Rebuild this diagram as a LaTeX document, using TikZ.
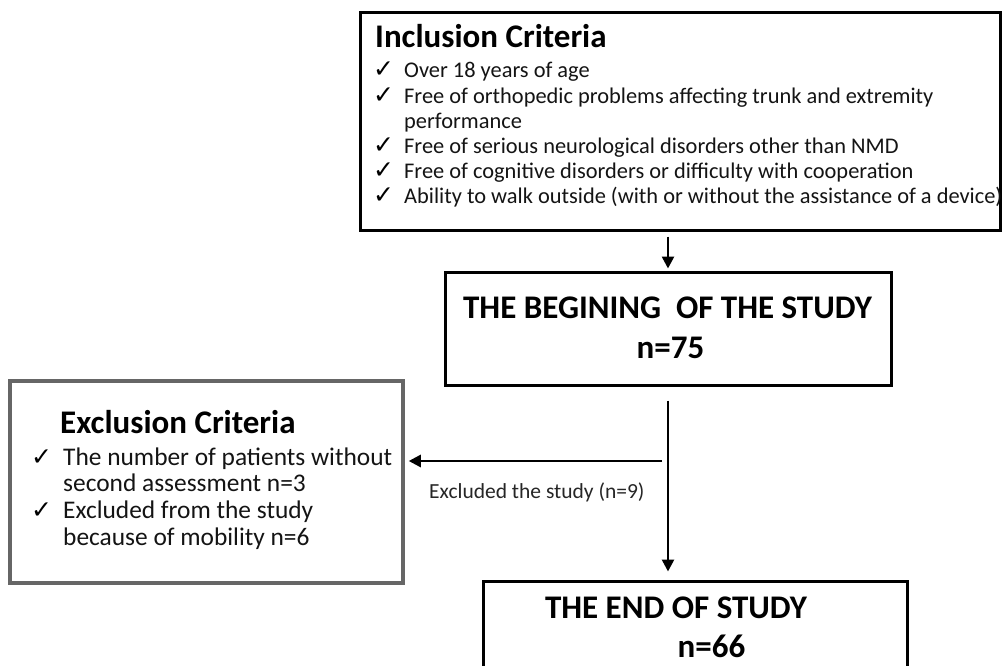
\documentclass[tikz,border=0pt]{standalone}
\usepackage{fontspec}
\setmainfont{Carlito}
\newfontfamily\chkfont{DejaVu Sans}
\usetikzlibrary{arrows.meta,calc}
\tikzset{
  boxline/.style={draw=black, line width=3pt, rectangle, inner sep=0pt},
  graybox/.style={draw=black!60, line width=3.5pt, rectangle, inner sep=0pt},
  ttl/.style={inner sep=0pt, font=\fontsize{33}{38}\selectfont\bfseries, text=black},
  itemA/.style={inner sep=0pt, anchor=base west, font=\fontsize{22.4}{26}\selectfont, text=black!92},
  itemB/.style={inner sep=0pt, anchor=base west, font=\fontsize{25.4}{30}\selectfont, text=black!92},
  chk/.style={inner sep=0pt, anchor=base west, font=\chkfont\fontsize{25}{28}\selectfont, text=black},
  lbl/.style={inner sep=0pt, anchor=base west, font=\fontsize{21.5}{26}\selectfont, text=black!85},
  arr/.style={line width=2.6pt, -{Triangle[length=12pt,width=12pt]}},
}
\begin{document}
\begin{tikzpicture}[x=1pt,y=-1pt]
\useasboundingbox (0,0) rectangle (1002,666);
\clip (0,0) rectangle (1002,666);
\fill[white] (0,0) rectangle (1002,666);
% boxes
\node[boxline, minimum width=640pt, minimum height=217pt] (incl) at (680,121.5) {};
\node[boxline, minimum width=446pt, minimum height=113pt] (begin) at (668,328.5) {};
\node[boxline, minimum width=424pt, minimum height=120pt] (endb) at (695,641) {};
\node[graybox, minimum width=393pt, minimum height=202pt] (excl) at (206.5,482) {};
% inclusion text
\node[ttl, anchor=base west] (inT) at (375,48) {Inclusion Criteria};
\node[chk] (c1) at (373,78) {✓};
\node[itemA] (i1) at (404,78) {Over 18 years of age};
\node[chk] (c2) at (373,103.2) {✓};
\node[itemA] (i2) at (404,103.2) {Free of orthopedic problems affecting trunk and extremity};
\node[itemA] (i2b) at (404,128.4) {performance};
\node[chk] (c3) at (373,153.6) {✓};
\node[itemA] (i3) at (404,153.6) {Free of serious neurological disorders other than NMD};
\node[chk] (c4) at (373,178.8) {✓};
\node[itemA] (i4) at (404,178.8) {Free of cognitive disorders or difficulty with cooperation};
\node[chk] (c5) at (373,204) {✓};
\node[itemA] (i5) at (404,204) {Ability to walk outside (with or without the assistance of a device)};
% begin text
\node[ttl, anchor=base] (bT) at (667.5,318) {THE BEGINING~ OF THE STUDY};
\node[ttl, anchor=base] (bN) at (670.5,358) {n=75};
% end text
\node[ttl, anchor=base] (eT) at (676,618) {THE END OF STUDY};
\node[ttl, anchor=base] (eN) at (711.5,657) {n=66};
% exclusion text
\node[ttl, anchor=base west] (exT) at (60,433) {Exclusion Criteria};
\node[chk] (d1) at (31,465) {✓};
\node[itemB] (x1) at (63,465) {The number of patients without};
\node[itemB] (x1b) at (63,491) {second assessment n=3};
\node[chk] (d2) at (31,518) {✓};
\node[itemB] (x2) at (63,518) {Excluded from the study};
\node[itemB] (x2b) at (63,545) {because of mobility n=6};
% label
\node[lbl] (lab) at (429,498) {Excluded the study (n=9)};
% connectors
\coordinate (split) at (662,461);
\draw[arr] ([yshift=-5pt]incl.south -| begin.north) -- ([yshift=2pt]begin.north);
\draw[arr] ([yshift=-14pt]begin.south) -- ([yshift=8pt]endb.north -| begin.south);
\draw[arr] (split) -- ([xshift=4pt]split -| excl.east);
\end{tikzpicture}
\end{document}
